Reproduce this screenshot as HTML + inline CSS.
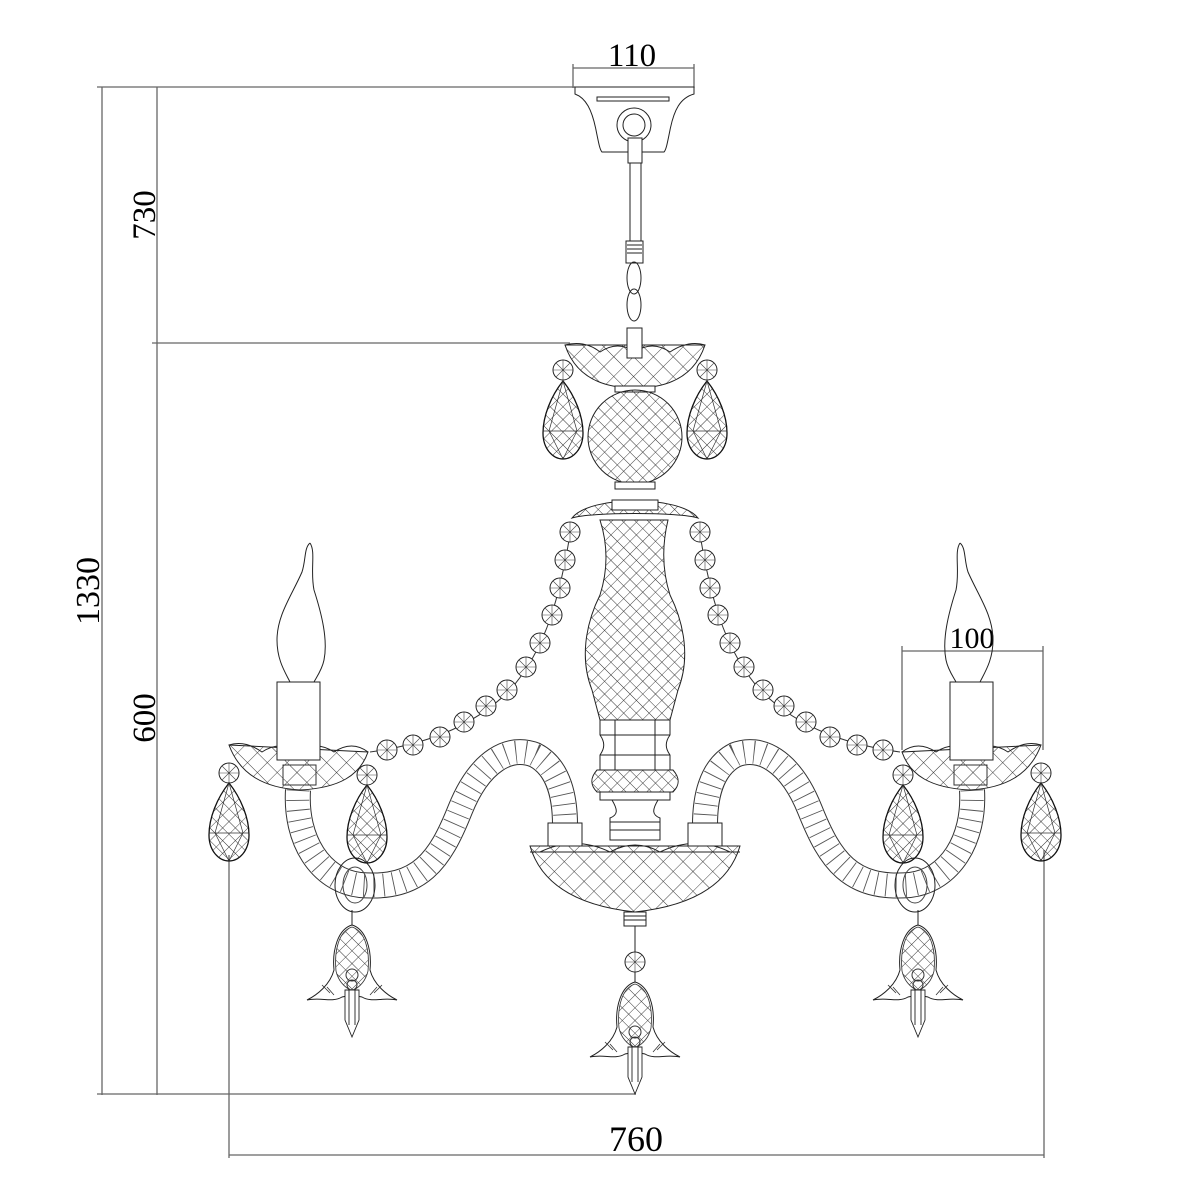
<!DOCTYPE html>
<html><head><meta charset="utf-8"><style>
html,body{margin:0;padding:0;background:#fff;}
svg{display:block;}
text{font-family:"Liberation Serif",serif;fill:#000;}
</style></head><body>
<svg width="1200" height="1200" viewBox="0 0 1200 1200" xmlns="http://www.w3.org/2000/svg">
<defs>
<pattern id="x" width="9" height="9" patternUnits="userSpaceOnUse" patternTransform="rotate(45)">
<path d="M0 0H9M0 0V9" stroke="#333" stroke-width="0.9" fill="none"/>
</pattern>
<pattern id="x2" width="14" height="14" patternUnits="userSpaceOnUse" patternTransform="rotate(45)">
<path d="M0 0H14M0 0V14" stroke="#333" stroke-width="0.9" fill="none"/>
</pattern>
<g id="bead">
<circle r="10" fill="#fff" stroke="#222" stroke-width="1"/>
<path d="M-10 0H10M0 -10V10M-7 -7L7 7M-7 7L7 -7" stroke="#444" stroke-width="0.6"/>
</g>
<g id="drop">
<path d="M0 0 C-12 15 -20 35 -20 52 C-20 68 -10 78 0 78 C10 78 20 68 20 52 C20 35 12 15 0 0Z" fill="url(#x)" stroke="#111" stroke-width="1.3"/>
<path d="M0 0L-14 50L0 78L14 50Z M-20 50H20" fill="none" stroke="#333" stroke-width="0.7"/>
</g>
<g id="bell">
<path d="M0 0 C-14 4 -20 25 -18 45 C-22 60 -35 70 -45 75 C-30 72 -20 78 -10 72 L0 70 L10 72 C20 78 30 72 45 75 C35 70 22 60 18 45 C20 25 14 4 0 0Z" fill="#fff" stroke="#222" stroke-width="1"/>
<path d="M0 2 C-13 6 -18 25 -16 46 C-14 55 -8 62 0 66 C8 62 14 55 16 46 C18 25 13 6 0 2Z" fill="url(#x)" stroke="#333" stroke-width="0.8"/>
<path d="M-25 62 L-18 70 M-30 60 L-22 68 M25 62 L18 70 M30 60 L22 68" stroke="#333" stroke-width="0.8"/>
<path d="M-7 65 L7 65 L7 95 L0 112 L-7 95Z M-3 65V100M3 65V100" fill="#fff" stroke="#222" stroke-width="0.9"/>
<circle cx="0" cy="50" r="6" fill="none" stroke="#333"/>
<circle cx="0" cy="60" r="5" fill="none" stroke="#333"/>
</g>
<g id="side">
<path d="M310 543 C304 548 306 560 302 572 C292 595 277 615 277 640 C277 660 285 672 290 682 M310 543 C316 552 310 570 314 590 C322 615 328 640 324 660 C322 670 316 678 314 682" fill="none" stroke="#222" stroke-width="1"/>
<path d="M298 790 C295 840 320 880 360 885 C420 890 440 860 460 810 C480 760 510 745 535 755 C560 768 565 800 565 825" fill="none" stroke="#333" stroke-width="26"/>
<path d="M298 790 C295 840 320 880 360 885 C420 890 440 860 460 810 C480 760 510 745 535 755 C560 768 565 800 565 825" fill="none" stroke="#fff" stroke-width="24"/>
<path d="M298 790 C295 840 320 880 360 885 C420 890 440 860 460 810 C480 760 510 745 535 755 C560 768 565 800 565 825" fill="none" stroke="#555" stroke-width="23" stroke-dasharray="0.9 9"/>
<rect x="548" y="823" width="34" height="23" fill="#fff" stroke="#222"/>
<ellipse cx="355" cy="885" rx="20" ry="27" fill="none" stroke="#222"/>
<ellipse cx="355" cy="885" rx="12" ry="18" fill="none" stroke="#444"/>
<line x1="352" y1="910" x2="352" y2="925" stroke="#222"/>
<path d="M229 745 L368 752 C360 775 340 788 300 790 C265 788 240 775 229 745Z" fill="url(#x2)" stroke="#222" stroke-width="1"/>
<path d="M229 745 Q245 740 262 752 Q280 740 298 752 Q316 740 334 752 Q352 740 368 752" fill="none" stroke="#222"/>
<rect x="277" y="682" width="43" height="78" fill="#fff" stroke="#222"/>
<rect x="283" y="765" width="33" height="20" fill="none" stroke="#333"/>
<use href="#bead" x="229" y="773"/>
<use href="#drop" x="229" y="783"/>
<use href="#bead" x="367" y="775"/>
<use href="#drop" x="367" y="785"/>
<path d="M370 752 C420 745 470 730 510 690 C545 650 560 600 572 522" fill="none" stroke="#333" stroke-width="1"/>
<use href="#bead" x="387" y="750"/>
<use href="#bead" x="413" y="745"/>
<use href="#bead" x="440" y="737"/>
<use href="#bead" x="464" y="722"/>
<use href="#bead" x="486" y="706"/>
<use href="#bead" x="507" y="690"/>
<use href="#bead" x="526" y="667"/>
<use href="#bead" x="540" y="643"/>
<use href="#bead" x="552" y="615"/>
<use href="#bead" x="560" y="588"/>
<use href="#bead" x="565" y="560"/>
<use href="#bead" x="570" y="532"/>
<use href="#bell" x="352" y="925"/>
<use href="#drop" x="563" y="381" />
<use href="#bead" x="563" y="370"/>
</g>
</defs>

<g stroke="#666" stroke-width="1.3" fill="none">
<line x1="573" y1="68" x2="694" y2="68"/><line x1="573" y1="64" x2="573" y2="88"/><line x1="694" y1="64" x2="694" y2="88"/>
<line x1="97" y1="87" x2="575" y2="87"/>
<line x1="102" y1="87" x2="102" y2="1095"/>
<line x1="157" y1="87" x2="157" y2="1095"/>
<line x1="152" y1="343" x2="570" y2="343"/>
<line x1="97" y1="1094" x2="636" y2="1094"/>
<line x1="229" y1="855" x2="229" y2="1158"/>
<line x1="1044" y1="850" x2="1044" y2="1158"/>
<line x1="229" y1="1155" x2="1044" y2="1155"/>
<line x1="902" y1="651" x2="1043" y2="651"/>
<line x1="902" y1="646" x2="902" y2="750"/>
<line x1="1043" y1="646" x2="1043" y2="750"/>
</g>
<text x="632" y="66" font-size="33" text-anchor="middle">110</text>
<text x="636" y="1151" font-size="36" text-anchor="middle">760</text>
<text x="972" y="648" font-size="30" text-anchor="middle">100</text>
<text transform="translate(155,215) rotate(-90)" font-size="33" text-anchor="middle">730</text>
<text transform="translate(155,718) rotate(-90)" font-size="33" text-anchor="middle">600</text>
<text transform="translate(99,591) rotate(-90)" font-size="34" text-anchor="middle">1330</text>

<g stroke="#222" stroke-width="1" fill="#fff">
<path d="M575 87 H694 V94 C680 98 674 110 670 130 C667 145 666 150 664 152 H602 C600 150 599 145 596 130 C592 110 586 98 575 94Z"/>
<rect x="597" y="97" width="72" height="4"/>
<circle cx="634" cy="125" r="17" fill="none"/><circle cx="634" cy="125" r="11" fill="none"/>
<rect x="628" y="138" width="14" height="25"/>
<rect x="630" y="163" width="11" height="78"/>
<rect x="626" y="241" width="17" height="22"/>
<path d="M627 245H642M627 249H642M627 253H642" />
<ellipse cx="634" cy="278" rx="7" ry="16" fill="none"/>
<ellipse cx="634" cy="305" rx="7" ry="16" fill="none"/>
<rect x="627" y="328" width="15" height="30"/>
</g>

<path d="M565 345 L705 345 C695 375 670 388 635 388 C600 388 575 375 565 345Z" fill="url(#x2)" stroke="#222"/>
<path d="M565 345 Q585 340 600 352 Q618 340 635 352 Q652 340 670 352 Q688 340 705 345" fill="none" stroke="#222"/>
<rect x="627" y="328" width="15" height="30" fill="#fff" stroke="#222"/>
<rect x="615" y="386" width="40" height="6" fill="#fff" stroke="#222"/>
<circle cx="635" cy="437" r="47" fill="url(#x)" stroke="#222"/>
<rect x="615" y="482" width="40" height="7" fill="#fff" stroke="#222"/>
<path d="M572 518 C590 495 680 495 698 518 C680 512 590 512 572 518Z" fill="url(#x)" stroke="#222"/>
<rect x="612" y="500" width="46" height="10" fill="#fff" stroke="#222"/>
<path d="M600 520 H668 C662 545 662 570 670 595 C685 625 690 660 678 690 L670 720 H600 L592 690 C580 660 585 625 600 595 C608 570 608 545 600 520Z" fill="url(#x)" stroke="#222"/>
<g stroke="#222" fill="#fff">
<path d="M600 720 H670 V735 C665 742 665 748 670 755 V770 H600 V755 C605 748 605 742 600 735Z"/>
<path d="M600 735H670M600 755H670M615 720V770M655 720V770"/>
<path d="M597 770 H673 C680 778 680 785 673 792 H597 C590 785 590 778 597 770Z" fill="url(#x)"/>
<rect x="600" y="792" width="70" height="8"/>
<path d="M612 800 H658 C652 810 652 815 660 818 V840 H610 V818 C618 815 618 810 612 800Z"/>
<path d="M610 822H660M610 830H660"/>
</g>
<path d="M530 846 H740 C730 880 700 905 635 912 C570 905 540 880 530 846Z" fill="url(#x2)" stroke="#222"/>
<path d="M530 846 H740 M530 852 H740" stroke="#222" fill="none"/>
<path d="M540 852 Q575 835 610 852 Q635 838 660 852 Q695 835 730 852" fill="none" stroke="#222"/>
<rect x="624" y="912" width="22" height="14" fill="#fff" stroke="#222"/>
<path d="M624 916H646M624 920H646" stroke="#222"/>
<line x1="635" y1="926" x2="635" y2="985" stroke="#222"/>
<use href="#bead" x="635" y="962"/>
<use href="#bell" x="635" y="982"/>

<use href="#side"/>
<use href="#side" transform="translate(1270,0) scale(-1,1)"/>
</svg>
</body></html>
